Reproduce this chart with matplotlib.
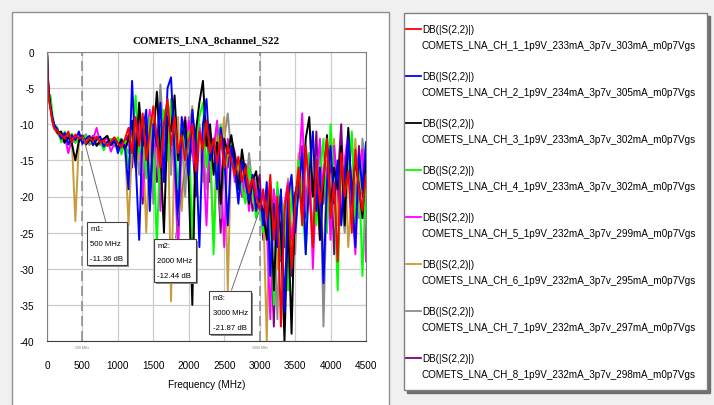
import numpy as np
import matplotlib
matplotlib.use("Agg")
import matplotlib.pyplot as plt
from matplotlib.patches import Rectangle
import matplotlib.patheffects as pe

plt.rcParams['font.family'] = ['Liberation Sans', 'DejaVu Sans']
plt.rcParams['axes.unicode_minus'] = False

# frequency sweep (MHz)
freq = [0, 10, 25, 50, 75, 100, 150] + list(range(200, 4501, 50))

# S22 in dB (start | 200-1100 | 1150-2600 | 2650-3000 | 3050-3500 | 3550-4500)
ch1 = ([0, -4, -6.5, -8, -9.5, -10.5, -11]
       + [-11.5, -12, -11, -12.5, -11.4, -12, -11.8, -12.6, -11.9, -12.3, -11.7, -12.5, -12.2, -13, -12.4, -11.8, -12.6, -13.2, -12]
       + [-10.5, -14, -9, -13, -8.5, -15, -11, -7.5, -12, -16, -10, -6.5, -13, -9, -14, -11.5, -15, -12.4, -10, -16.5,
          -11, -13.5, -9.5, -14, -12, -15.5, -11.5, -16, -13, -15]
       + [-17, -14.5, -18, -16, -19.5, -17.5, -20, -21.9]
       + [-19, -23, -17, -26, -20, -38, -22, -18.5, -30, -21]
       + [-16, -24, -13, -19, -27, -15, -21, -17.5, -12, -23, -18, -29, -14, -20, -16.5, -25, -13.5, -19, -22, -17])
ch2 = ([0, -3.5, -6, -7.8, -9, -10, -10.8]
       + [-12, -11.2, -12.8, -11.5, -12.2, -11, -12.7, -12, -11.6, -12.9, -12.1, -11.7, -13.1, -12.4, -12.8, -12, -14, -12.5, -13]
       + [-19, -4, -15, -26, -11, -8, -22, -10, -13, -7, -18, -5, -3.5, -14, -24, -9, -12, -17, -8, -13,
          -27, -10, -6.5, -15, -12, -19, -10.5, -14, -24, -13]
       + [-16, -21, -15, -18, -20.5, -17, -22, -19]
       + [-24, -18, -31, -21, -27, -19, -36, -20, -17, -25]
       + [-19, -14, -28, -17, -11, -22, -16, -32, -18, -13, -21, -15, -24, -17, -12, -20, -27, -14, -19, -12.5])
ch3 = ([0, -3, -5.5, -7.5, -9.2, -10.2, -11.2]
       + [-11, -12.5, -11.8, -12.6, -15, -12.3, -11.5, -12.8, -12.2, -11.9, -13, -12.4, -12, -11.6, -12.9, -12.3, -13.3, -12.1, -13.5]
       + [-12, -9.5, -16, -7, -13, -10, -20, -12, -5.5, -14, -25, -9, -11, -6, -15, -12, -9.5, -18, -35, -11,
          -7, -4, -13, -10, -17, -12.5, -21, -12, -14, -11.5]
       + [-15, -19, -13.5, -17, -21, -18, -16.5, -20.5]
       + [-22, -26, -19, -33, -21, -25, -40, -23, -39, -20]
       + [-17, -23, -12, -9, -20, -15, -26, -18, -11.5, -22, -16, -19, -13, -24, -10.5, -20, -15, -18.5, -23, -14])
ch4 = ([0, -3.2, -5.8, -6, -8.5, -10, -10.5]
       + [-12.5, -11, -12, -11.3, -12.6, -11.8, -12.2, -11.5, -12.4, -12.9, -11.8, -12.2, -13.6, -12.5, -12, -12.7, -11.8, -14.2, -12.2]
       + [-16, -12.5, -6, -14, -10, -17.5, -9, -13, -27, -11, -8, -15, -6.5, -12, -19, -10, -14, -11, -26, -13,
          -9, -7, -16, -12, -28, -13.5, -10, -17, -14, -12.5]
       + [-17, -15.5, -19, -21, -16, -18.5, -23, -20]
       + [-25, -19, -22, -35, -18, -28, -21, -33, -19, -24]
       + [-15, -21, -28, -14, -19, -24, -17, -12, -25, -10, -18, -33, -15, -21, -17, -11, -24, -16, -31, -18])
ch5 = ([0, -3.4, -6.2, -7.6, -9.4, -10.4, -11]
       + [-12.2, -11.5, -14, -12, -11.6, -12.4, -12, -11.4, -12.7, -12.1, -10.5, -12.6, -12.3, -11.9, -13.8, -12.6, -12.2, -13, -12.7]
       + [-13, -11, -14.5, -9, -20, -12, -8, -15, -11.5, -22, -9.5, -13, -7, -16, -28, -11, -15, -9.5, -13, -17,
          -10.5, -14, -24, -11, -13.5, -9.5, -16, -27, -12, -14]
       + [-18, -15, -20, -16.5, -22, -17, -19, -21]
       + [-20, -24, -37, -19, -23, -29, -21, -18, -26, -22]
       + [-17, -8.5, -22, -14, -30, -18, -12, -21, -16, -26, -13, -19, -23, -15, -11, -20, -28, -16, -13.5, -29])
ch6 = ([0, -3.6, -6, -7.2, -9.3, -10.6, -11.4]
       + [-12, -11.8, -12.8, -12.1, -23.4, -12.4, -11.6, -12.2, -12.9, -11.8, -12.5, -12, -12.7, -13, -12.2, -11.9, -12.6, -13.4, -12.8]
       + [-24, -13, -10, -15, -11, -25, -12, -9, -14, -20, -10, -6.5, -34.5, -12, -9, -22, -13, -11, -7.5, -15,
          -12, -18, -10, -14, -26, -11, -13.5, -9, -33, -13]
       + [-16, -19, -14.5, -18, -17, -20, -22.5, -19.5]
       + [-21, -40, -18, -24, -30, -20, -23, -17.5, -27, -21]
       + [-14, -19, -26, -16, -13, -22, -18, -30, -15, -20, -12, -24, -17, -14.5, -27, -19, -12, -22, -16, -15])
ch7 = ([0, -3.3, -5.9, -7.7, -9.6, -10.7, -11.3]
       + [-11.6, -12.3, -11.9, -12.6, -12, -11.5, -12.3, -12.8, -11.8, -12.4, -12.1, -12.9, -12.3, -11.7, -12.5, -13.1, -12.4, -12, -12.8]
       + [-14, -10, -12.5, -17, -9.5, -13, -11, -21, -12, -4.5, -13, -10, -17, -8, -14, -11.5, -20, -9, -12.5, -15,
          -10, -13, -19, -11, -14, -10, -23, -12, -8.5, -14]
       + [-15, -18.5, -16, -20, -14, -19, -17.5, -21]
       + [-23, -19.5, -26, -22, -37, -20, -24, -21, -18, -28]
       + [-16, -21, -13, -19, -24, -17, -14, -38, -18, -12, -22, -16, -20, -25, -15, -13, -19, -23, -12, -17])
ch8 = ([0, -3.1, -5.7, -7.4, -9.1, -10.3, -10.9]
       + [-11.9, -12.6, -11.4, -12.2, -12.5, -11.7, -12.1, -12.6, -12.3, -11.6, -12.8, -12.2, -12.5, -12.9, -12.1, -12.4, -11.9, -13.5, -12.4]
       + [-11.5, -16, -10, -13, -21, -9, -14, -12, -18, -10, -13, -7.5, -15, -11, -23, -12, -9, -16, -12.5, -20,
          -11, -14, -9.5, -18, -12, -15, -25, -13, -16, -12]
       + [-14, -17, -20, -15.5, -18, -22, -19, -17]
       + [-26, -20, -23, -38, -19, -22, -27, -20, -31, -19.5]
       + [-18, -13, -23, -16, -20, -11, -26, -17, -21, -14, -28, -18, -10, -22, -16, -19, -25, -13, -20, -16])

traces = [ch1, ch2, ch3, ch4, ch5, ch6, ch7, ch8]
channel_names = [
    "COMETS_LNA_CH_1_1p9V_233mA_3p7v_303mA_m0p7Vgs",
    "COMETS_LNA_CH_2_1p9V_234mA_3p7v_305mA_m0p7Vgs",
    "COMETS_LNA_CH_3_1p9V_233mA_3p7v_302mA_m0p7Vgs",
    "COMETS_LNA_CH_4_1p9V_233mA_3p7v_302mA_m0p7Vgs",
    "COMETS_LNA_CH_5_1p9V_232mA_3p7v_299mA_m0p7Vgs",
    "COMETS_LNA_CH_6_1p9V_232mA_3p7v_295mA_m0p7Vgs",
    "COMETS_LNA_CH_7_1p9V_232mA_3p7v_297mA_m0p7Vgs",
    "COMETS_LNA_CH_8_1p9V_232mA_3p7v_298mA_m0p7Vgs",
]
colors = ['#ff0000', '#0000ff', '#000000', '#00ff00', '#ff00ff', '#c89b3c', '#8c8c8c', '#800080']

# markers
marker_names = ['m1', 'm2', 'm3']
marker_freq = [500, 2000, 3000]
marker_db = [-11.36, -12.44, -21.87]
box_pos = [(610, -24.0), (1555, -26.3), (2335, -33.5)]

fig = plt.figure(figsize=(7.14, 4.06), dpi=100, facecolor='#f0f0f0')
fig.patches.append(Rectangle((12 / 714, -0.05), 377 / 714, 1.05 - 13 / 406,
                             transform=fig.transFigure, facecolor='white',
                             edgecolor='#909090', lw=1, zorder=-1))
ax = fig.add_axes([47 / 714, 1 - 342 / 406, 319 / 714, 289 / 406], zorder=2)

handles = [None] * 8
for i in range(7, -1, -1):
    handles[i], = ax.plot(freq, traces[i], color=colors[i], lw=1.4)

ax.set_xlim(0, 4500)
ax.set_ylim(-40, 0)
ax.set_xticks(range(0, 4501, 500))
ax.set_yticks(range(-40, 1, 5))
ax.grid(True, color='#cccccc', lw=0.9)
ax.set_axisbelow(True)
ax.tick_params(length=0, labelsize=7.2)
ax.tick_params(axis='x', pad=14)
ax.tick_params(axis='y', pad=9)
for s in ax.spines.values():
    s.set_color('#808080')
ax.spines['bottom'].set_color('#404040')
ax.set_xlabel('Frequency (MHz)', fontsize=7.2, labelpad=6)
ax.set_title('COMETS_LNA_8channel_S22', family='Liberation Serif', weight='bold',
             fontsize=7.9, pad=7)

for f in (500, 3000):
    ax.axvline(f, color='#909090', lw=1.2, ls=(0, (6, 3)), zorder=1.5)
    ax.annotate(f'{f} MHz', xy=(f, -40), xytext=(0, -3), textcoords='offset points',
                ha='center', va='top', fontsize=2.5, color='#808080')

for name, f, db, pos in zip(marker_names, marker_freq, marker_db, box_pos):
    ann = ax.annotate(f'{name}:\n{f} MHz\n{db:.2f} dB', xy=(f, db), xytext=pos,
                      textcoords='data', ha='left', va='top', fontsize=5.6,
                      linespacing=2.55, zorder=10,
                      bbox=dict(boxstyle='square,pad=0.45', fc='white', ec='#404040', lw=0.8),
                      arrowprops=dict(arrowstyle='-', color='#707070', lw=0.7,
                                      relpos=(0.5, 1), shrinkA=0, shrinkB=0))
    ann.get_bbox_patch().set_path_effects([
        pe.SimplePatchShadow(offset=(1.5, -1.5), shadow_rgbFace='#808080', alpha=0.9),
        pe.Normal()])

labels = ['DB(|S(2,2)|)\n' + n for n in channel_names]
leg = fig.legend(handles, labels, loc='upper left',
                 bbox_to_anchor=(404 / 714, 1 - 14 / 406), bbox_transform=fig.transFigure,
                 fontsize=7.1, fancybox=False, borderpad=1.1, labelspacing=2.13,
                 handlelength=1.5, handletextpad=-0.79, borderaxespad=0,
                 shadow={'ox': 2, 'oy': -2, 'color': '#707070', 'alpha': 1})
leg.get_frame().set_edgecolor('#808080')
leg.get_frame().set_linewidth(1)
for t in leg.get_texts():
    t.set_linespacing(1.75)
for ln in leg.get_lines():
    ln.set_linewidth(1.3)
    ln.set_xdata(np.asarray(ln.get_xdata()) - 6.5)
    ln.set_ydata(np.asarray(ln.get_ydata()) + 6.1)

fig.savefig('out.png', dpi=100, facecolor=fig.get_facecolor())
